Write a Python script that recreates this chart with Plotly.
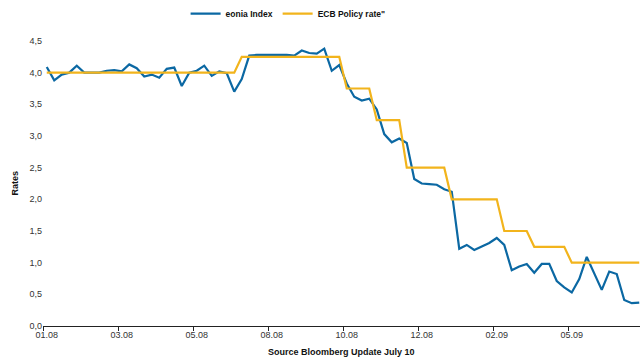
import plotly.graph_objects as go

eonia = [4.09, 3.88, 3.97, 4.00, 4.11, 4.00, 4.00, 4.00, 4.03, 4.04,
         4.02, 4.13, 4.07, 3.94, 3.97, 3.92, 4.06, 4.08, 3.79, 4.00,
         4.03, 4.11, 3.95, 4.02, 3.99, 3.70, 3.90, 4.27, 4.28, 4.28,
         4.29, 4.29, 4.28, 4.27, 4.35, 4.31, 4.30, 4.38, 4.03, 4.12,
         3.83, 3.62, 3.56, 3.59, 3.42, 3.03, 2.90, 2.96, 2.89, 2.32,
         2.25, 2.24, 2.23, 2.16, 2.12, 1.22, 1.28, 1.20, 1.25, 1.31,
         1.39, 1.28, 0.88, 0.94, 0.98, 0.84, 0.98, 0.98, 0.71, 0.61,
         0.53, 0.74, 1.09, 0.83, 0.57, 0.86, 0.82, 0.41, 0.36, 0.37]

ecb = [4.00] * 26 + [4.25] * 14 + [3.75] * 4 + [3.25] * 4 + [2.50] * 6 + \
      [2.00] * 7 + [1.50] * 4 + [1.25] * 5 + [1.00] * 10

tick_labels = ["01.08", "03.08", "05.08", "08.08", "10.08", "12.08", "02.09", "05.09"]
tick_positions = [0, 10, 20, 30, 40, 50, 60, 70]
boundaries = [p - 0.5 for p in tick_positions]

x = list(range(len(eonia)))

fig = go.Figure()
fig.add_trace(go.Scatter(x=x, y=eonia, mode="lines", name="<b>eonia Index</b>",
                         line=dict(color="#0b68a3", width=2.2)))
fig.add_trace(go.Scatter(x=x, y=ecb, mode="lines", name="<b>ECB Policy rate\"</b>",
                         line=dict(color="#f2b41c", width=2.2)))

fig.update_layout(
    width=640, height=359,
    margin=dict(l=43, r=0, t=41, b=33, autoexpand=False),
    paper_bgcolor="white", plot_bgcolor="white",
    separators=",.",
    font=dict(family="Liberation Sans, Arial, sans-serif", size=9, color="#333333"),
    showlegend=True,
    legend=dict(orientation="h", xref="container", yref="container",
                x=0.29, xanchor="left", y=0.962, yanchor="middle",
                font=dict(size=8.5, color="#111111", family="Liberation Sans, Arial, sans-serif"),
                itemwidth=30, tracegroupgap=0, bgcolor="rgba(0,0,0,0)"),
    xaxis=dict(range=[-0.5, 79.1], tickmode="array", tickvals=tick_positions,
               ticktext=tick_labels, ticks="", showgrid=False, zeroline=False,
               showline=True, linecolor="#222222", linewidth=1, automargin=False,
               minor=dict(tickmode="array", tickvals=boundaries, ticks="outside",
                          ticklen=4, tickcolor="#222222", tickwidth=1, showgrid=False),
               tickfont=dict(size=9, color="#333333")),
    yaxis=dict(range=[0, 4.5], dtick=0.5, tick0=0, tickformat=".1f", showgrid=False,
               zeroline=False, showline=False, ticks="", automargin=False,
               tickfont=dict(size=9, color="#333333")),
    annotations=[
        dict(text="<b>Source Bloomberg Update July 10</b>", xref="paper", yref="paper",
             x=0.5, y=0, yshift=-26, xanchor="center", yanchor="middle", showarrow=False,
             font=dict(size=9, color="#111111")),
        dict(text="<b>Rates</b>", xref="paper", yref="paper", x=0, y=0.5,
             xshift=-29, xanchor="center", yanchor="middle", textangle=-90, showarrow=False,
             font=dict(size=9, color="#111111")),
    ],
)

fig.write_html("out.html", config={"displayModeBar": False},
               post_script="document.body.style.margin='0';document.body.style.overflow='hidden';")
